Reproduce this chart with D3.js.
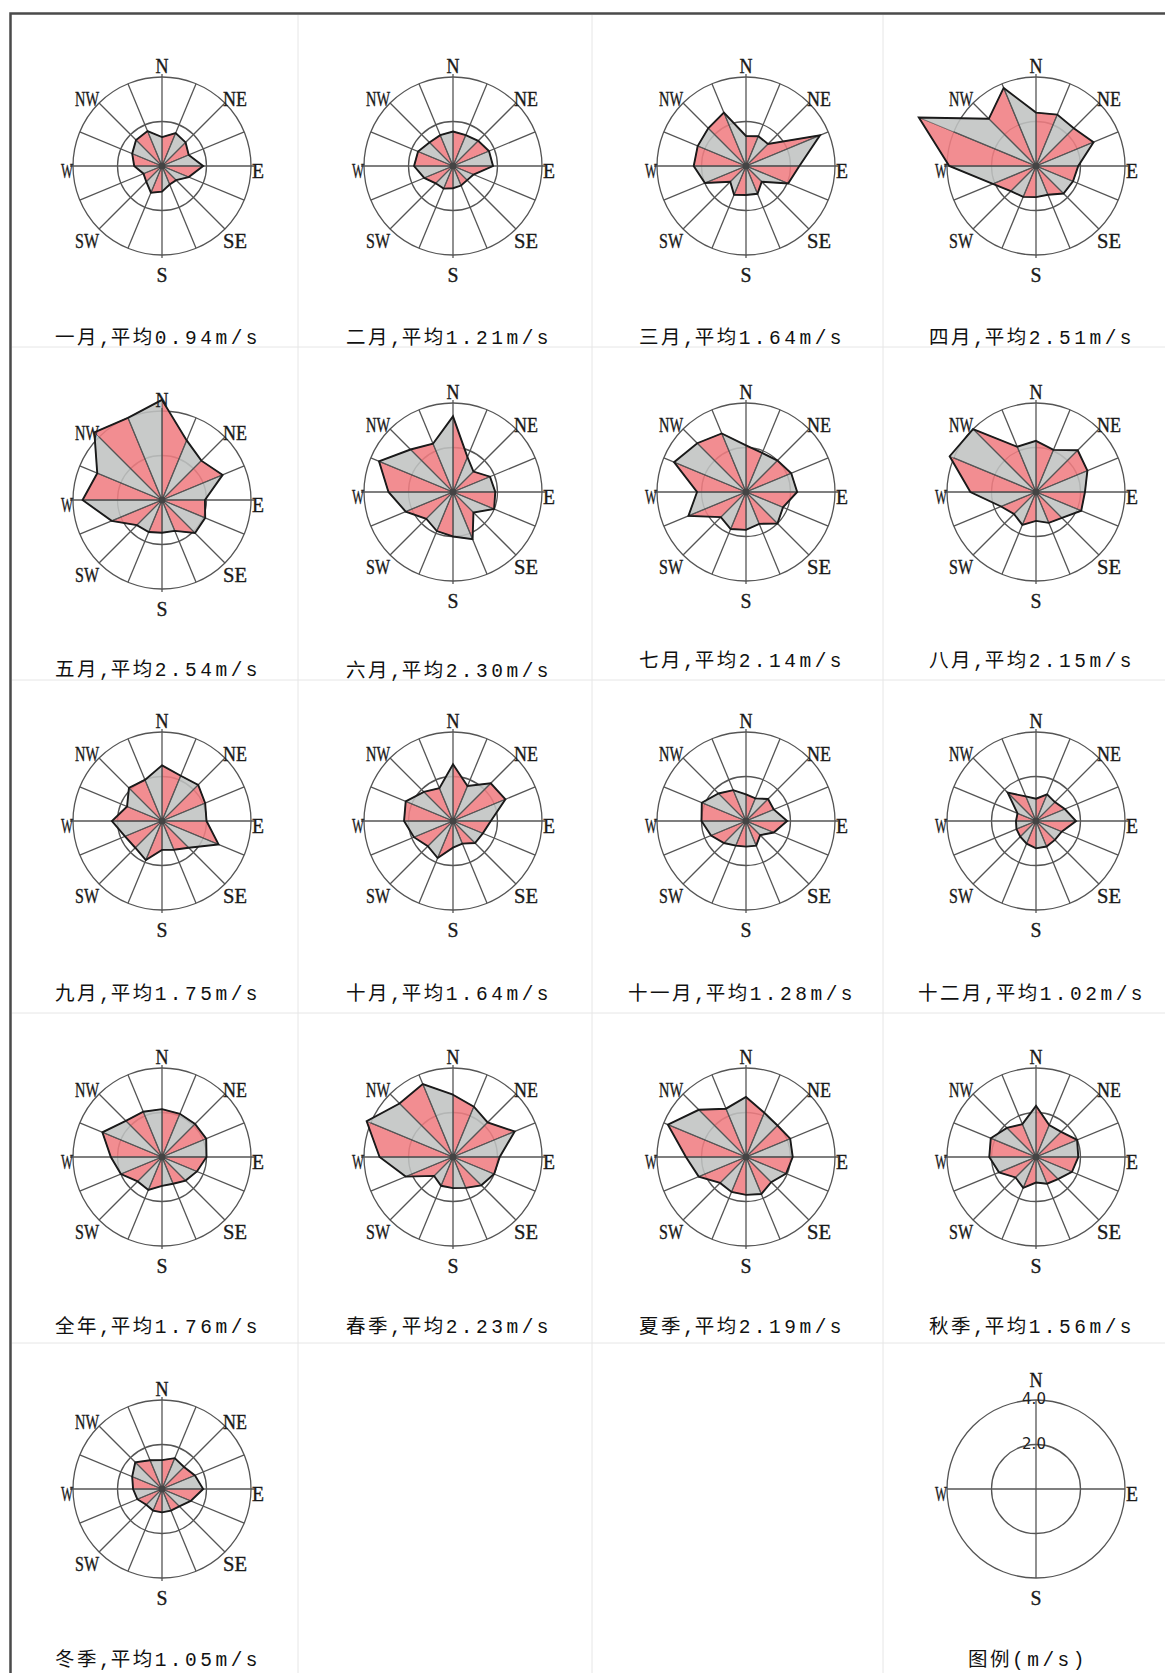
<!DOCTYPE html>
<html>
<head>
<meta charset="utf-8">
<script src="https://cdn.jsdelivr.net/npm/d3@7/dist/d3.min.js"></script>
<style>
body{margin:0;background:#fff;}
</style>
</head>
<body>
<svg id="roses"></svg>
<script>
// 16 wind directions, clockwise from north
var dirs = ["N","NNE","NE","ENE","E","ESE","SE","SSE","S","SSW","SW","WSW","W","WNW","NW","NNW"];

// mean wind speed (m/s) per direction
var jan    = [1.3, 1.6, 1.5, 1.3, 1.85, 1.3, 0.9, 0.9, 1.15, 1.3, 1.0, 0.9, 1.25, 1.45, 1.65, 1.7];
var feb    = [1.55, 1.5, 1.6, 1.75, 1.8, 1.0, 0.9, 0.95, 1.0, 1.1, 1.1, 1.4, 1.75, 1.7, 1.5, 1.5];
var mar    = [1.35, 1.45, 1.4, 3.6, 2.4, 2.05, 1.0, 1.35, 1.3, 1.4, 1.0, 2.0, 2.35, 2.35, 2.4, 2.6];
var apr    = [2.4, 2.5, 2.4, 2.8, 1.9, 1.8, 1.75, 1.4, 1.4, 1.5, 1.6, 2.1, 3.9, 5.7, 3.0, 3.8];
var may    = [4.5, 2.9, 2.5, 2.95, 1.93, 2.1, 2.1, 1.5, 1.47, 1.56, 1.6, 2.45, 3.57, 3.15, 4.3, 4.0];
var jun    = [3.4, 1.7, 1.3, 1.8, 1.9, 2.0, 1.3, 2.3, 2.0, 1.9, 1.7, 2.3, 2.9, 3.6, 2.7, 2.35];
var jul    = [2.1, 1.9, 2.0, 2.2, 2.3, 1.8, 2.0, 1.55, 1.7, 1.8, 1.6, 2.8, 2.2, 3.5, 3.1, 2.85];
var aug    = [2.3, 2.05, 2.65, 2.5, 2.2, 2.2, 1.65, 1.5, 1.3, 1.6, 1.4, 1.7, 2.95, 4.2, 4.0, 2.2];
var sep    = [2.5, 2.2, 2.3, 2.1, 2.0, 2.75, 1.7, 1.4, 1.3, 1.9, 1.7, 1.8, 2.25, 1.7, 2.1, 2.0];
var oct    = [2.55, 1.7, 2.4, 2.55, 1.7, 1.45, 1.4, 1.1, 1.2, 1.8, 1.6, 1.9, 2.2, 2.3, 1.85, 1.6];
var nov    = [1.2, 1.1, 1.4, 1.35, 1.85, 1.35, 0.9, 1.2, 1.15, 1.2, 1.4, 1.7, 2.0, 2.15, 1.75, 1.5];
var dec    = [1.0, 1.3, 1.2, 1.4, 1.8, 1.25, 1.2, 1.24, 1.23, 1.1, 1.0, 0.95, 0.9, 0.9, 1.8, 1.2];
var annual = [2.15, 2.1, 2.1, 2.15, 2.0, 1.7, 1.5, 1.3, 1.3, 1.6, 1.55, 2.0, 2.3, 2.9, 2.3, 2.2];
var spring = [2.8, 2.45, 2.2, 3.0, 2.1, 2.0, 1.8, 1.5, 1.4, 1.4, 1.2, 2.3, 3.3, 4.2, 3.4, 3.55];
var summer = [2.7, 2.15, 2.0, 2.15, 2.1, 1.95, 1.6, 1.8, 1.7, 1.7, 1.65, 2.3, 2.7, 3.8, 3.0, 2.35];
var autumn = [2.3, 1.55, 1.6, 2.0, 1.9, 1.75, 1.4, 1.3, 1.15, 1.5, 1.3, 1.8, 2.1, 2.2, 1.85, 1.6];
var winter = [1.3, 1.5, 1.4, 1.6, 1.85, 1.4, 1.1, 1.05, 1.05, 1.05, 1.0, 1.2, 1.3, 1.45, 1.7, 1.4];

var periods = ["一月","二月","三月","四月","五月","六月","七月","八月","九月","十月",
               "十一月","十二月","全年","春季","夏季","秋季","冬季"];
var means = ["0.94","1.21","1.64","2.51","2.54","2.30","2.14","2.15","1.75","1.64",
             "1.28","1.02","1.76","2.23","2.19","1.56","1.05"];
var series = [jan,feb,mar,apr,may,jun,jul,aug,sep,oct,nov,dec,annual,spring,summer,autumn,winter];

// legend rings
var ringTicks = [2.0, 4.0];
var legendTitle = "图例";
var unitText = "(m/s)";

// layout
var colX = [162, 453, 746, 1036];
var roseY  = [166,166,166,166, 500,492,492,492, 821,821,821,821, 1157,1157,1157,1157, 1489];
var titleY = [337,337,337,337, 669,670,660,660, 993,993,993,993, 1326,1326,1326,1326, 1659];
var pink = "#f07d82", grey = "#c0c3c2", gridCol = "#555", ink = "#1a1a1a";

var svg = d3.select("#roses").attr("width",1165).attr("height",1673);

// cell separators and frame
var vSep = [298, 592, 883], hSep = [347, 680, 1013, 1343];
svg.selectAll("line.vsep").data(vSep).enter().append("line")
    .attr("x1",d=>d).attr("x2",d=>d).attr("y1",15).attr("y2",1673)
    .attr("stroke","#e6e6e6").attr("stroke-width",1);
svg.selectAll("line.hsep").data(hSep).enter().append("line")
    .attr("x1",12).attr("x2",1165).attr("y1",d=>d).attr("y2",d=>d)
    .attr("stroke","#e6e6e6").attr("stroke-width",1);
svg.append("rect").attr("x",10.5).attr("y",13.5).attr("width",1200).attr("height",1700)
    .attr("fill","none").attr("stroke","#4a4a4a").attr("stroke-width",2.5);

// scales: radius is speed, angle is direction index
var r = d3.scaleLinear().domain([0,4]).range([0,89]);
var a = d3.scaleLinear().domain([0,dirs.length]).range([0,2*Math.PI]);

var outline = d3.lineRadial()
    .angle(function(d,i){ return a(i); })
    .radius(function(d){ return r(d); })
    .curve(d3.curveLinearClosed);

//compass letters, squeezed a little like the original print
var drawLabels = function(g, labels, nudgeN)
{
    var pos = {N:[0,-100],S:[0,109],E:[96,5],W:[-95,5],
               NE:[73,-67],NW:[-75,-67],SE:[73,75],SW:[-75,75]};
    var widths = {N:13,S:11,E:12,W:12,NE:24,NW:24,SE:24,SW:24};
    labels.forEach(function(l)
    {
        var y = pos[l][1];
        if (l == "N" && nudgeN) y += nudgeN;
        g.append("text")
            .attr("x",pos[l][0]).attr("y",y).attr("dy","0.35em")
            .attr("text-anchor","middle")
            .attr("font-family","'Liberation Serif', serif")
            .attr("font-size",20).attr("fill","#1a1a1a")
            .attr("stroke","#1a1a1a").attr("stroke-width",0.35)
            .attr("textLength",widths[l]).attr("lengthAdjust","spacingAndGlyphs")
            .text(l);
    });
}

var drawTitle = function(x, y, cjk1, mid, cjk2, ascii)
{
    var t = svg.append("text").attr("x",x).attr("y",y).attr("dy","0.35em")
        .attr("text-anchor","middle").attr("font-size",19.5).attr("fill","#111");
    t.append("tspan").attr("font-family","'Noto Sans CJK SC'").attr("letter-spacing",2.5).text(cjk1);
    if (mid) t.append("tspan").attr("font-family","'Liberation Mono'").text(mid);
    if (cjk2) t.append("tspan").attr("font-family","'Noto Sans CJK SC'").attr("letter-spacing",2.5).text(cjk2);
    t.append("tspan").attr("font-family","'Liberation Mono'").attr("letter-spacing",3.5).text(ascii);
}

var drawRose = function(values, cx, cy)
{
    var g = svg.append("g").attr("transform","translate("+cx+","+cy+")");

    g.selectAll("circle.ring").data(ringTicks).enter().append("circle")
        .attr("r",function(d){ return r(d); })
        .attr("fill","none").attr("stroke",gridCol).attr("stroke-width",1.3);

    // one triangle per sector, alternating pink / grey
    g.selectAll("path.wedge").data(values).enter().append("path")
        .attr("d",function(d,i)
        {
            var p1 = d3.pointRadial(a(i), r(d));
            var j = (i+1) % values.length;
            var p2 = d3.pointRadial(a(j), r(values[j]));
            return "M0,0L"+p1[0]+","+p1[1]+"L"+p2[0]+","+p2[1]+"Z";
        })
        .attr("fill",function(d,i){ return i % 2 == 0 ? pink : grey; })
        .attr("fill-opacity",0.88)
        .attr("stroke",ink).attr("stroke-width",0.6).attr("stroke-opacity",0.6);

    g.selectAll("line.spoke").data(dirs).enter().append("line")
        .attr("x1",0).attr("y1",0)
        .attr("x2",function(d,i){ return d3.pointRadial(a(i), r(4) + (i%4==0 ? 3 : 0))[0]; })
        .attr("y2",function(d,i){ return d3.pointRadial(a(i), r(4) + (i%4==0 ? 3 : 0))[1]; })
        .attr("stroke",gridCol).attr("stroke-width",1.3);

    g.append("path").attr("d",outline(values))
        .attr("fill","none").attr("stroke",ink).attr("stroke-width",1.9)
        .attr("stroke-linejoin","miter");

    g.append("circle").attr("r",3.5).attr("fill","#444");

    drawLabels(g, ["N","NE","E","SE","S","SW","W","NW"]);
}

series.forEach(function(values,k)
{
    var cx = colX[k % 4];
    drawRose(values, cx, roseY[k]);
    drawTitle(cx-4, titleY[k], periods[k], ",", "平均", means[k]+"m/s");
});

// legend panel
var lg = svg.append("g").attr("transform","translate("+colX[3]+","+roseY[16]+")");
lg.selectAll("circle").data(ringTicks).enter().append("circle")
    .attr("r",function(d){ return r(d); })
    .attr("fill","none").attr("stroke",gridCol).attr("stroke-width",1.3);
lg.selectAll("line").data([0,4,8,12]).enter().append("line")
    .attr("x1",0).attr("y1",0)
    .attr("x2",function(i){ return d3.pointRadial(a(i), r(4))[0]; })
    .attr("y2",function(i){ return d3.pointRadial(a(i), r(4))[1]; })
    .attr("stroke",gridCol).attr("stroke-width",1.3);
drawLabels(lg, ["N","E","S","W"], -9);
lg.selectAll("text.tick").data(ringTicks).enter().append("text")
    .attr("x",-2).attr("y",function(d){ return -r(d) + 4; })
    .attr("text-anchor","middle")
    .attr("font-family","'DejaVu Sans', sans-serif").attr("font-size",15).attr("fill","#222")
    .text(function(d){ return d.toFixed(1); });
drawTitle(colX[3]-8, titleY[16], legendTitle, null, null, unitText);
</script>
</body>
</html>
